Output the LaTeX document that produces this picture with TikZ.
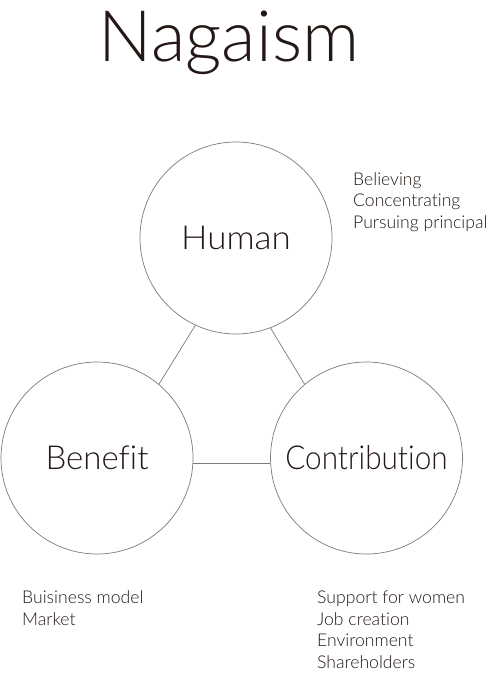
\documentclass[tikz,border=0pt]{standalone}
\usepackage{fontspec}
\setmainfont{Lato Light}[Ligatures=NoCommon]
\definecolor{ink}{HTML}{231815}
\definecolor{ring}{HTML}{7A7A7A}
\tikzset{
  circ/.style={circle, draw=ring, line width=0.7pt, minimum size=192pt, inner sep=0pt, text=ink, font=\fontsize{33}{38}\selectfont},
  link/.style={draw=ring, line width=0.7pt},
  item/.style={anchor=base west, inner sep=0pt, text=ink, font=\fontsize{17.6}{21}\selectfont}
}
\begin{document}
\begin{tikzpicture}[x=1pt, y=-1pt]
\useasboundingbox (0,0) rectangle (490,675);
\node[anchor=base, inner sep=0pt, text=ink, font=\fontsize{71}{80}\selectfont] (title) at (229,61) {Nagaism};
\node[circ] (human) at (236,238) {\scalebox{1.06}[1]{Human}};
\node[circ] (benefit) at (97,458) {Benefit};
\node[circ] (contrib) at (366.5,458) {\scalebox{0.9}[1]{Contribution}};
\draw[link] (human.245.3) -- (benefit.50.9);
\draw[link] (human.291.8) -- (contrib.130.6);
\draw[link] (benefit.-3.6) -- (contrib.183.6);
\node[item] (h1) at (353,185) {Believing};
\node[item] (h2) at (353,206.7) {Concentrating};
\node[item] (h3) at (353,228.3) {Pursuing principal};
\node[item] (b1) at (22,603.5) {Buisiness model};
\node[item] (b2) at (22,625) {Market};
\node[item] (c1) at (317,603.5) {Support for women};
\node[item] (c2) at (317,625) {Job creation};
\node[item] (c3) at (317,646.7) {Environment};
\node[item] (c4) at (317,668.3) {Shareholders};
\end{tikzpicture}
\end{document}
